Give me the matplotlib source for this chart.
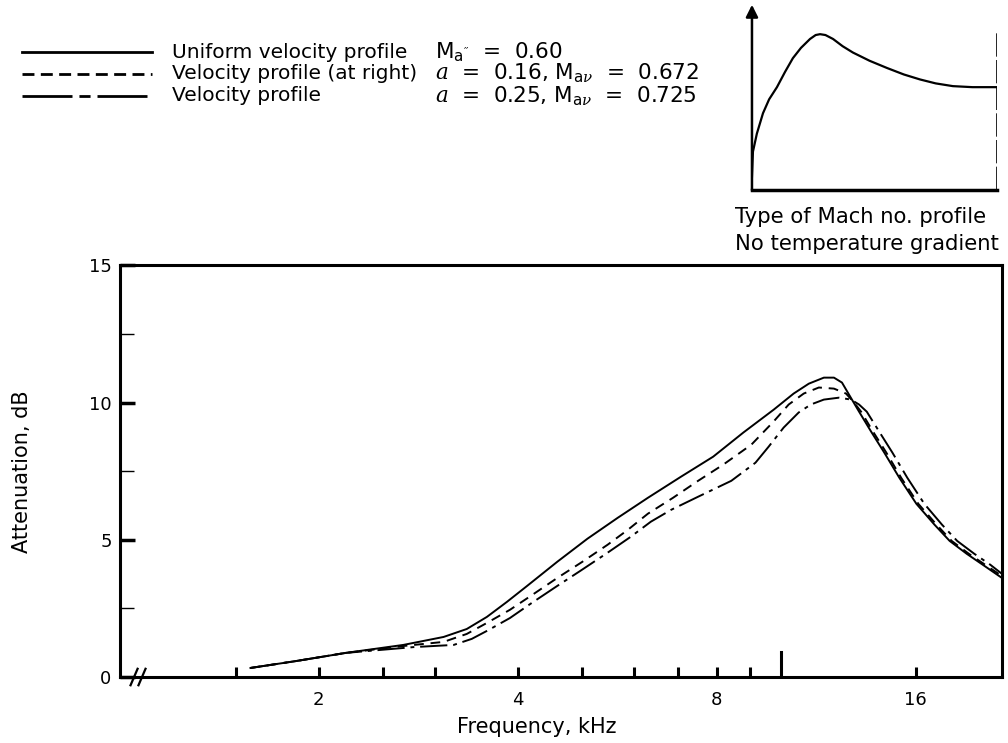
import numpy as np
import matplotlib
matplotlib.use("Agg")
import matplotlib.pyplot as plt
from matplotlib.lines import Line2D
from matplotlib.ticker import FixedLocator, NullFormatter

plt.rcParams['font.family'] = ['DejaVu Sans']
plt.rcParams['mathtext.fontset'] = 'custom'
plt.rcParams['mathtext.rm'] = 'DejaVu Sans'
plt.rcParams['mathtext.it'] = 'DejaVu Serif:italic'

# attenuation curves (frequency kHz, attenuation dB)
freq_uniform = [1.576, 1.845, 2.198, 2.685, 3.089, 3.349, 3.592, 3.853, 4.133, 4.591, 5.100,
                5.666, 6.295, 7.066, 7.905, 8.782, 9.757, 10.464, 11.031, 11.626, 12.041,
                12.383, 12.691, 13.143, 13.709, 14.348, 15.124, 16.051, 17.097, 18.021,
                19.128, 20.231, 21.625]
db_uniform = [0.33, 0.58, 0.88, 1.17, 1.46, 1.75, 2.19, 2.74, 3.32, 4.20, 5.04,
              5.80, 6.53, 7.30, 8.03, 8.91, 9.74, 10.33, 10.69, 10.91, 10.91,
              10.73, 10.29, 9.67, 8.94, 8.18, 7.26, 6.31, 5.55, 4.96,
              4.49, 4.09, 3.61]

freq_a016 = [1.576, 1.845, 2.198, 2.685, 3.089, 3.349, 3.592, 3.893, 4.206, 4.591, 5.011,
             5.471, 5.868, 6.295, 6.871, 7.500, 8.187, 9.032, 9.757, 10.284, 10.838,
             11.424, 12.041, 12.558, 12.915, 13.236, 13.80, 14.45, 15.22, 16.16,
             17.22, 18.15, 19.27, 20.40, 21.625]
db_a016 = [0.33, 0.58, 0.88, 1.13, 1.28, 1.57, 1.97, 2.45, 2.99, 3.61, 4.20,
           4.82, 5.36, 5.95, 6.53, 7.15, 7.74, 8.47, 9.31, 9.93, 10.33,
           10.55, 10.51, 10.33, 10.00, 9.67, 8.94, 8.18, 7.26, 6.31,
           5.55, 4.96, 4.49, 4.09, 3.68]

freq_a025 = [1.576, 1.845, 2.198, 2.781, 3.200, 3.408, 3.592, 3.893, 4.177, 4.591, 4.976,
             5.471, 5.930, 6.361, 6.823, 7.500, 8.420, 9.160, 9.587, 10.105, 10.649,
             11.108, 11.626, 12.254, 12.780, 13.143, 13.50, 14.10, 14.76, 15.55,
             16.50, 17.55, 18.50, 19.64, 20.77, 21.625]
db_a025 = [0.33, 0.58, 0.88, 1.09, 1.17, 1.39, 1.68, 2.15, 2.66, 3.32, 3.87,
           4.53, 5.11, 5.66, 6.09, 6.57, 7.15, 7.81, 8.39, 9.09, 9.64,
           9.93, 10.11, 10.18, 10.11, 9.93, 9.67, 8.94, 8.18, 7.26,
           6.31, 5.55, 4.96, 4.49, 4.09, 3.76]

# Mach number profile sketch (radial position, Mach no.) in relative units
prof_r = [0.0, 0.004, 0.02, 0.045, 0.07, 0.102, 0.135, 0.167, 0.2, 0.237, 0.26, 0.278,
          0.30, 0.331, 0.37, 0.412, 0.48, 0.551, 0.62, 0.686, 0.75, 0.82, 0.9, 1.0]
prof_m = [0.08, 0.225, 0.33, 0.449, 0.53, 0.601, 0.69, 0.77, 0.83, 0.882, 0.905, 0.91,
          0.905, 0.882, 0.84, 0.803, 0.755, 0.713, 0.675, 0.646, 0.623, 0.607, 0.601, 0.601]

x_major = [2, 4, 8, 16]
x_minor = [1.5, 2.5, 3, 5, 6, 7, 9]
y_major = [0, 5, 10, 15]
y_minor = [2.5, 7.5, 12.5]

plot_styles = ['-', (0, (5, 3.5)), (0, (14, 3, 2, 3))]
legend_styles = ['-', (0, (4.3, 2.3)), (0, (18, 2.5, 4, 2.5))]
legend_names = ['Uniform velocity profile', 'Velocity profile (at right)', 'Velocity profile']
legend_params = [r"M$_{\mathrm{a}''}$  =  0.60",
                 r"$a$  =  0.16, M$_{\mathrm{a}\nu}$  =  0.672",
                 r"$a$  =  0.25, M$_{\mathrm{a}\nu}$  =  0.725"]

fig = plt.figure(figsize=(10.08, 7.43), dpi=100)
ax = fig.add_axes([0.119, 0.0888, 0.875, 0.554])

lw = 1.4
ax.plot(freq_uniform, db_uniform, color='black', lw=lw, ls=plot_styles[0])
ax.plot(freq_a016, db_a016, color='black', lw=lw, ls=plot_styles[1])
ax.plot(freq_a025, db_a025, color='black', lw=lw, ls=plot_styles[2])

ax.set_xscale('log')
ax.set_xlim(1.0, 21.625)
ax.set_ylim(0, 15)
ax.xaxis.set_major_locator(FixedLocator(x_major))
ax.xaxis.set_minor_locator(FixedLocator(x_minor))
ax.set_xticklabels([str(v) for v in x_major])
ax.xaxis.set_minor_formatter(NullFormatter())
ax.yaxis.set_major_locator(FixedLocator(y_major))
ax.yaxis.set_minor_locator(FixedLocator(y_minor))
ax.tick_params(axis='both', which='both', direction='in', labelsize=13)
ax.tick_params(axis='x', which='both', length=7, width=2.2, pad=10)
ax.tick_params(axis='y', which='major', length=11, width=2.5, pad=6)
ax.tick_params(axis='y', which='minor', length=10, width=1.0)
ax.tick_params(top=False, right=False)
ax.axvline(10, 0, 0.06, color='black', lw=2.2)
for s in ax.spines.values():
    s.set_linewidth(2.2)

# axis break marks
for dx in (0.012, 0.021):
    ax.plot([dx, dx + 0.008], [-0.02, 0.02], transform=ax.transAxes,
            color='black', lw=1.6, clip_on=False)

ax.set_xlabel('Frequency, kHz', fontsize=15)
ax.set_ylabel('Attenuation, dB', fontsize=15)
ax.xaxis.set_label_coords(0.473, -0.098)
ax.yaxis.set_label_coords(-0.1, 0.5)

# legend drawn by hand at the top left
rows_y = [0.930, 0.901, 0.871]
for y, st, name, par in zip(rows_y, legend_styles, legend_names, legend_params):
    fig.add_artist(Line2D([0.022, 0.151], [y, y], transform=fig.transFigure,
                          color='black', lw=2.0, ls=st))
    fig.text(0.171, y, name, fontsize=14.5, va='center')
    fig.text(0.432, y, par, fontsize=15.5, va='center')

# inset: type of Mach number profile
ins = fig.add_axes([0.746, 0.744, 0.243, 0.240])
ins.plot(prof_r, prof_m, color='black', lw=1.6)
ins.set_xlim(0, 1)
ins.set_ylim(0, 1.04)
for k in ('top', 'right', 'left'):
    ins.spines[k].set_visible(False)
ins.spines['bottom'].set_linewidth(2.5)
ins.set_xticks([])
ins.set_yticks([])
ins.patch.set_alpha(0)
ins.annotate('', xy=(0, 1.04), xytext=(0, 0), xycoords='axes fraction',
             arrowprops=dict(arrowstyle='-|>', color='black', lw=1.8,
                             mutation_scale=18, shrinkA=0, shrinkB=0))
ins.axvline(1, 0, 0.9, color='black', lw=1.2, ls=(0, (14, 2)))

fig.text(0.729, 0.708, 'Type of Mach no. profile', fontsize=15.2, va='center')
fig.text(0.729, 0.672, 'No temperature gradient', fontsize=15.2, va='center')

fig.savefig('out.png', dpi=100)
